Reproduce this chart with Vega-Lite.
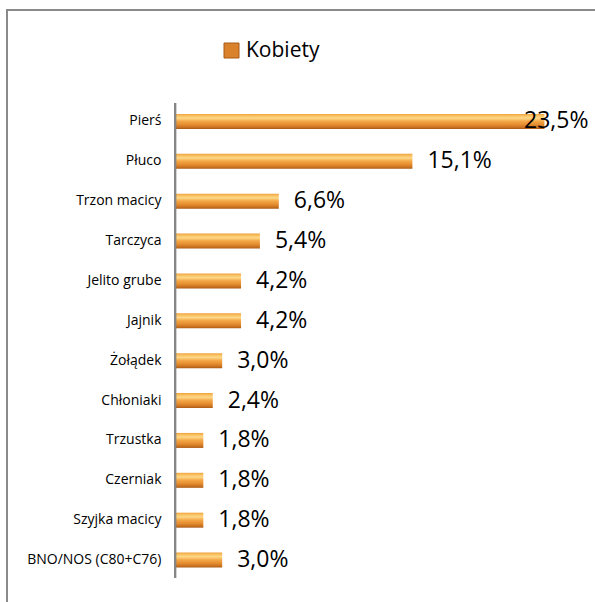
{
  "$schema": "https://vega.github.io/schema/vega-lite/v6.json",
  "autosize": "none",
  "padding": {"left": 7, "top": 10, "right": 0, "bottom": 0},
  "width": 600,
  "height": 600,
  "background": "white",
  "config": {
    "font": "Open Sans",
    "view": {"stroke": "#8a8a8a", "strokeWidth": 2},
    "locale": {"number": {"decimal": ",", "thousands": " ", "grouping": [3], "currency": ["", " zł"]}}
  },
  "data": {
    "values": [
      {"cat": "Pierś", "v": 0.235, "series": "Kobiety"},
      {"cat": "Płuco", "v": 0.151, "series": "Kobiety"},
      {"cat": "Trzon macicy", "v": 0.066, "series": "Kobiety"},
      {"cat": "Tarczyca", "v": 0.054, "series": "Kobiety"},
      {"cat": "Jelito grube", "v": 0.042, "series": "Kobiety"},
      {"cat": "Jajnik", "v": 0.042, "series": "Kobiety"},
      {"cat": "Żołądek", "v": 0.030, "series": "Kobiety"},
      {"cat": "Chłoniaki", "v": 0.024, "series": "Kobiety"},
      {"cat": "Trzustka", "v": 0.018, "series": "Kobiety"},
      {"cat": "Czerniak", "v": 0.018, "series": "Kobiety"},
      {"cat": "Szyjka macicy", "v": 0.018, "series": "Kobiety"},
      {"cat": "BNO/NOS (C80+C76)", "v": 0.030, "series": "Kobiety"}
    ]
  },
  "encoding": {
    "y": {
      "field": "cat", "type": "nominal", "sort": null,
      "scale": {"range": [91.5, 570], "paddingInner": 0.624, "paddingOuter": 0.312, "align": 0.5},
      "axis": {
        "title": null, "domain": false, "ticks": false, "tickSize": 0,
        "offset": -168, "labelPadding": 14, "labelFontSize": 14,
        "labelColor": "#000000", "labelFont": "Open Sans", "labelLimit": 300
      }
    }
  },
  "layer": [
    {
      "mark": {
        "type": "bar",
        "color": {
          "gradient": "linear", "x1": 0, "y1": 0, "x2": 0, "y2": 1,
          "stops": [
            {"offset": 0, "color": "#eea03c"},
            {"offset": 0.12, "color": "#f8c060"},
            {"offset": 0.28, "color": "#fdd888"},
            {"offset": 0.48, "color": "#f4a848"},
            {"offset": 0.72, "color": "#e48c30"},
            {"offset": 0.9, "color": "#c8701e"},
            {"offset": 1, "color": "#a85a18"}
          ]
        }
      },
      "encoding": {
        "x": {
          "field": "v", "type": "quantitative",
          "scale": {"domain": [-0.1069, 0.2748], "nice": false, "zero": false},
          "axis": null
        }
      }
    },
    {
      "mark": {"type": "square", "opacity": 0},
      "encoding": {
        "x": {"field": "v", "type": "quantitative"},
        "color": {
          "field": "series", "type": "nominal",
          "scale": {"range": ["#d9822b"]},
          "legend": {
            "title": null, "orient": "none", "legendX": 214, "legendY": 30,
            "padding": 0, "symbolType": "square", "symbolSize": 225,
            "symbolOpacity": 1, "symbolStrokeColor": "#a85a18", "symbolStrokeWidth": 1,
            "labelFontSize": 21, "labelFont": "Open Sans", "labelColor": "#000000",
            "labelOffset": 4
          }
        }
      }
    },
    {
      "mark": {"type": "rule", "color": "#868686", "strokeWidth": 2},
      "encoding": {
        "x": {"datum": 0, "type": "quantitative"},
        "y": {"datum": "Pierś", "type": "nominal", "bandPosition": -0.73},
        "y2": {"datum": "BNO/NOS (C80+C76)", "bandPosition": 1.7}
      }
    },
    {
      "transform": [{"filter": "datum.v < 0.2"}],
      "mark": {"type": "text", "align": "left", "baseline": "middle", "dx": 15, "fontSize": 23, "font": "Open Sans", "color": "#000000"},
      "encoding": {
        "x": {"field": "v", "type": "quantitative"},
        "text": {"field": "v", "type": "quantitative", "format": ".1%"}
      }
    },
    {
      "transform": [{"filter": "datum.v >= 0.2"}],
      "mark": {"type": "text", "align": "right", "baseline": "middle", "dx": 44, "fontSize": 23, "font": "Open Sans", "color": "#000000"},
      "encoding": {
        "x": {"field": "v", "type": "quantitative"},
        "text": {"field": "v", "type": "quantitative", "format": ".1%"}
      }
    }
  ]
}
